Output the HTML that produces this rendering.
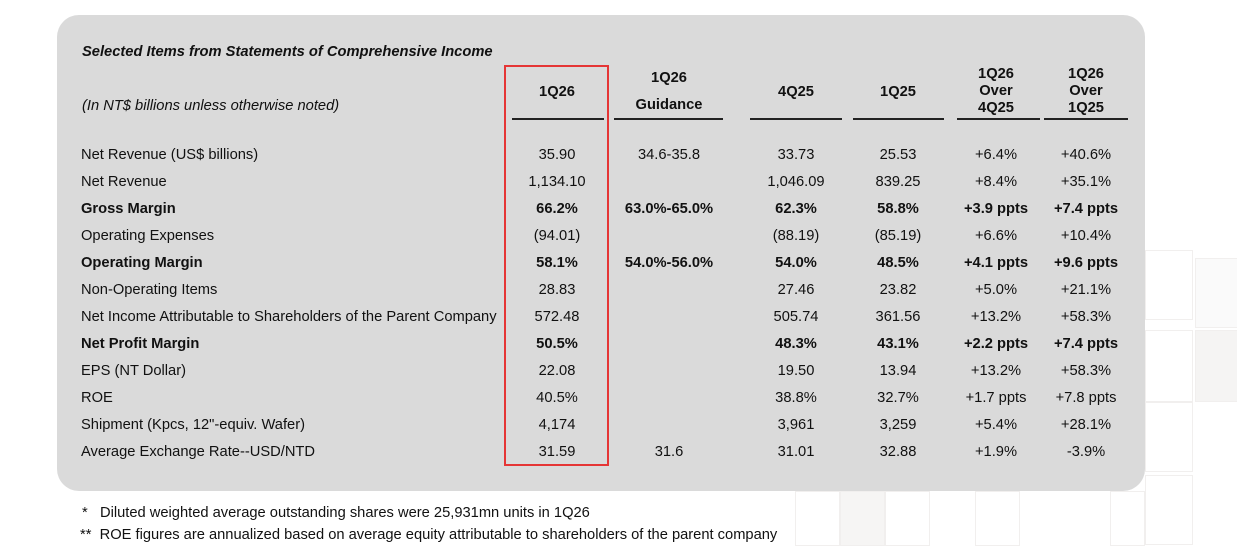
<!DOCTYPE html>
<html><head><meta charset="utf-8"><style>
body{margin:0;width:1237px;height:556px;background:#fff;position:relative;overflow:hidden;font-family:"Liberation Sans",Arial,sans-serif;color:#111}
.t{position:absolute;font-size:14.7px;white-space:nowrap;line-height:17px}
.c{transform:translateX(-50%);text-align:center}
.b{font-weight:bold}
.ul{position:absolute;height:1.5px;background:#222;top:118px}
.tile{position:absolute;border:1px solid #f1efee;box-sizing:border-box}
</style></head><body>
<div>
<div class="tile" style="left:1145px;top:250px;width:48px;height:70px"></div>
<div class="tile" style="left:1195px;top:258px;width:43px;height:70px;background:#fafafa"></div>
<div class="tile" style="left:1145px;top:330px;width:48px;height:72px"></div>
<div class="tile" style="left:1195px;top:330px;width:43px;height:72px;background:#f5f4f3"></div>
<div class="tile" style="left:1145px;top:402px;width:48px;height:70px"></div>
<div class="tile" style="left:1145px;top:475px;width:48px;height:70px"></div>
<div class="tile" style="left:795px;top:491px;width:45px;height:55px"></div>
<div class="tile" style="left:840px;top:491px;width:45px;height:55px;background:#f6f5f4"></div>
<div class="tile" style="left:885px;top:491px;width:45px;height:55px"></div>
<div class="tile" style="left:975px;top:491px;width:45px;height:55px"></div>
<div class="tile" style="left:1110px;top:491px;width:35px;height:55px"></div>
</div>
<div style="position:absolute;left:57px;top:15px;width:1088px;height:476px;background:#dadada;border-radius:22px"></div>
<div style="position:absolute;left:504px;top:65px;width:101px;height:397px;border:2px solid #e53535"></div>
<div class="t b" style="left:82px;top:44px;font-style:italic">Selected Items from Statements of Comprehensive Income</div>
<div class="t" style="left:82px;top:98px;font-style:italic">(In NT$ billions unless otherwise noted)</div>
<div id="hdr"></div>
<div id="rows"></div>
<div class="t" style="left:82px;top:505px">*&nbsp;&nbsp;&nbsp;Diluted weighted average outstanding shares were 25,931mn units in 1Q26</div>
<div class="t" style="left:80px;top:527px">**&nbsp;&nbsp;ROE figures are annualized based on average equity attributable to shareholders of the parent company</div>
<script>
const colCenters=[557,669,796,898,996,1086];
const ulRanges=[[512,604],[614,723],[750,842],[853,944],[957,1040],[1044,1128]];
const headers=[["","1Q26",""],["1Q26","","Guidance"],["","4Q25",""],["","1Q25",""],["1Q26","Over","4Q25"],["1Q26","Over","1Q25"]];
const labels=["Net Revenue (US$ billions)","Net Revenue","Gross Margin","Operating Expenses","Operating Margin","Non-Operating Items","Net Income Attributable to Shareholders of the Parent Company","Net Profit Margin","EPS (NT Dollar)","ROE","Shipment (Kpcs, 12\"-equiv. Wafer)","Average Exchange Rate--USD/NTD"];
const bold=[0,0,1,0,1,0,0,1,0,0,0,0];
const q126=["35.90","1,134.10","66.2%","(94.01)","58.1%","28.83","572.48","50.5%","22.08","40.5%","4,174","31.59"];
const guidance=["34.6-35.8","","63.0%-65.0%","","54.0%-56.0%","","","","","","","31.6"];
const q425=["33.73","1,046.09","62.3%","(88.19)","54.0%","27.46","505.74","48.3%","19.50","38.8%","3,961","31.01"];
const q125=["25.53","839.25","58.8%","(85.19)","48.5%","23.82","361.56","43.1%","13.94","32.7%","3,259","32.88"];
const overQ4=["+6.4%","+8.4%","+3.9 ppts","+6.6%","+4.1 ppts","+5.0%","+13.2%","+2.2 ppts","+13.2%","+1.7 ppts","+5.4%","+1.9%"];
const overQ1=["+40.6%","+35.1%","+7.4 ppts","+10.4%","+9.6 ppts","+21.1%","+58.3%","+7.4 ppts","+58.3%","+7.8 ppts","+28.1%","-3.9%"];
const cols=[q126,guidance,q425,q125,overQ4,overQ1];
const hdr=document.getElementById('hdr'),rows=document.getElementById('rows');
headers.forEach((h,i)=>{
  h.forEach((s,j)=>{ if(!s)return;
    const d=document.createElement('div');d.className='t c b';
    
    
    d.style.left=colCenters[i]+'px';
    let top=66+j*17;
    if(i<4&&j===1)top=84;
    if(i===1&&j===0)top=70;
    if(i===1&&j===2)top=97;
    d.style.top=top+'px';
    d.textContent=s;hdr.appendChild(d);});
  const u=document.createElement('div');u.className='ul';
  
  
  u.style.left=ulRanges[i][0]+'px';u.style.width=(ulRanges[i][1]-ulRanges[i][0])+'px';hdr.appendChild(u);
});
labels.forEach((l,r)=>{
  const y=147+r*27;
  const d=document.createElement('div');d.className='t'+(bold[r]?' b':'');
  
  
  d.style.left='81px';d.style.top=y+'px';d.textContent=l;rows.appendChild(d);
  cols.forEach((c,i)=>{ if(!c[r])return;
    const e=document.createElement('div');e.className='t c'+(bold[r]?' b':'');
    
    
    e.style.left=colCenters[i]+'px';e.style.top=y+'px';e.textContent=c[r];rows.appendChild(e);});
});
</script>
</body></html>
